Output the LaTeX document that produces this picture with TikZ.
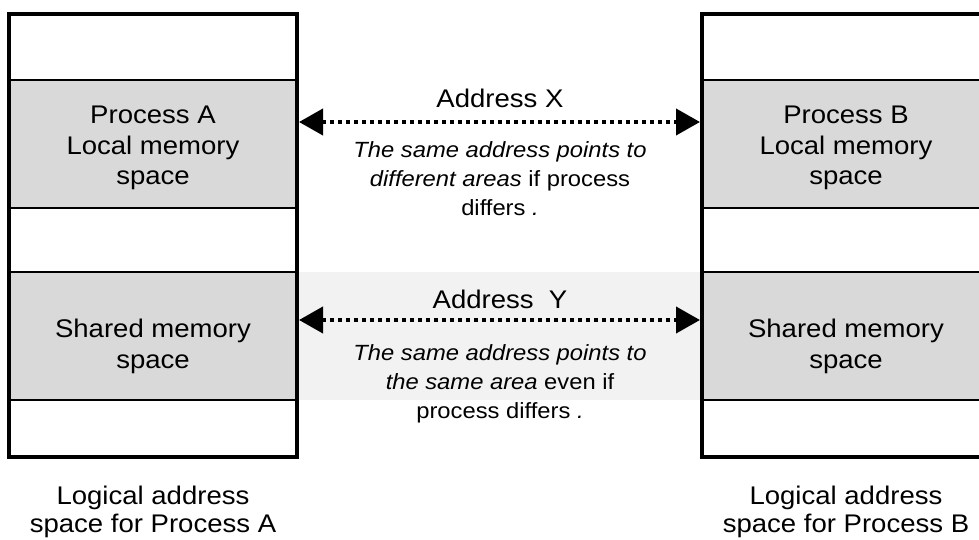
\documentclass[tikz,border=0pt]{standalone}
\usepackage{fontspec}
\setmainfont{Liberation Sans}[FakeStretch=1.08]
\usetikzlibrary{arrows.meta}
\definecolor{shade}{HTML}{D9D9D9}
\definecolor{band}{HTML}{F2F2F2}
\begin{document}
\begin{tikzpicture}[x=1pt,y=-1pt,
  region/.style={fill=shade, minimum width=288pt, minimum height=128pt, inner sep=0pt, outer sep=0pt},
  spacebox/.style={draw, line width=4pt, minimum width=288pt, minimum height=442pt, inner sep=0pt},
  divider/.style={line width=2pt},
  % multi-line labels are placed by the baseline of their last line
  boxlabel/.style={font=\fontsize{25.5}{30.5}\selectfont, align=center, anchor=base},
  caption/.style={font=\fontsize{25.5}{27.5}\selectfont, align=center, anchor=base},
  note/.style={font=\fontsize{22}{29}\selectfont, align=center, anchor=base},
  addr/.style={font=\fontsize{25.5}{30}\selectfont, anchor=base},
  link/.style={line width=4pt, dash pattern=on 4pt off 4pt,
    {Triangle[length=24pt,width=26pt]}-{Triangle[length=24pt,width=26pt]},
    shorten <=2pt, shorten >=2pt}
]
\useasboundingbox (0,0) rectangle (979,540);

% light band behind the shared-address explanation
\fill[band] (297,272) rectangle (702,400);

% memory regions
\node[region] (la) at (153,144) {};
\node[region] (sa) at (153,336) {};
\node[region] (lb) at (846,144) {};
\node[region] (sb) at (846,336) {};

\foreach \r in {la,sa,lb,sb}{
  \draw[divider] (\r.north west) -- (\r.north east);
  \draw[divider] (\r.south west) -- (\r.south east);
}

% outer frames of the two address spaces
\node[spacebox] (spa) at (153,235.5) {};
\node[spacebox] (spb) at (846,235.5) {};

% region labels
\node[boxlabel] (tla) at (153,185) {Process A\\Local memory\\space};
\node[boxlabel] (tlb) at (846,185) {Process B\\Local memory\\space};
\node[boxlabel] (tsa) at (153,368) {Shared memory\\space};
\node[boxlabel] (tsb) at (846,368) {Shared memory\\space};

% captions
\node[caption] (ca) at (153,532) {Logical address\\space for Process A};
\node[caption] (cb) at (846,532) {Logical address\\space for Process B};

% address links
\draw[link] ([yshift=22pt]la.east) -- ([yshift=22pt]lb.west);
\draw[link] ([yshift=16pt]sa.east) -- ([yshift=16pt]sb.west);

\node[addr] (ax) at (500,108) {Address X};
\node[note] (nx) at (500,215) {\textit{The same address points to}\\\textit{different areas} if process\\differs \textit{.}};
\node[addr] (ay) at (500,308) {Address~~Y};
\node[note] (ny) at (500,418) {\textit{The same address points to}\\\textit{the same area} even if\\process differs \textit{.}};
\end{tikzpicture}
\end{document}
